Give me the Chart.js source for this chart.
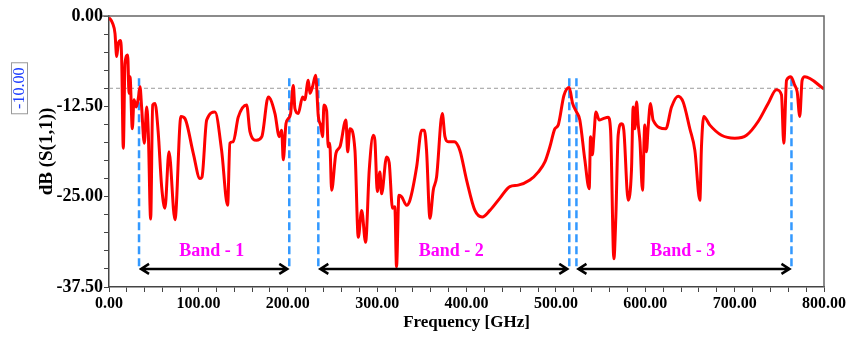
<!DOCTYPE html>
<html>
<head>
<meta charset="utf-8">
<script src="https://cdn.jsdelivr.net/npm/chart.js@4.4.0/dist/chart.umd.min.js"></script>
<style>
  html, body { margin: 0; padding: 0; background: #fff; }
</style>
</head>
<body>
<canvas id="s11-chart" width="850" height="339"></canvas>
<script>
// S(1,1) trace
const freqGHz = [
  0, 4, 6.7, 8.6, 10.4, 13, 14.2, 16, 17.9, 20.9, 22.4, 23.5, 26.1, 28, 30.5, 32.8, 34.7, 36.5, 39.5, 42.2,
  44, 46.6, 48.9, 51.5, 55, 58.9, 62.6, 67.1, 73.8, 80.5, 85, 94.3, 101.8, 104, 109.3, 118.6, 126, 132.7, 135.3, 139,
  144.6, 154, 157.7, 165, 171, 178.2, 185.7, 190.5, 193.2, 195, 198, 200.6, 203.2, 206.2, 208, 211.7, 216.6, 219, 223, 224.8,
  227.7, 231.2, 234.2, 236.8, 239, 240.5, 243.5, 245.3, 247, 249.1, 253.9, 258.4, 265.1, 267, 269.6, 275.2, 278.9, 282.7, 287.1, 291.2,
  295.7, 297.5, 300.2, 303.1, 305, 310.6, 313.5, 317.2, 319.8, 321.7, 324.4, 327.4, 333, 336.7, 344.2, 349.8, 352.8, 355.3, 359.1, 362.8,
  366.5, 372.9, 375.9, 379.6, 386.3, 392.6, 400.1, 409.4, 417.6, 426.2, 437.4, 448.5, 457.9, 470.9, 480.2, 487.7, 493.3, 498.9, 502.6, 509,
  514.9, 518.7, 523.2, 526.8, 532.4, 537.3, 538.8, 540.8, 542.5, 544.8, 548.5, 553, 558.5, 561.2, 564.9, 567.1, 569.7, 573.5, 576, 580.9,
  584.6, 586.5, 588.3, 590.3, 592.2, 594.1, 596.9, 599.5, 601.3, 603.3, 605.9, 608.8, 623, 629.4, 636.8, 642.4, 649.9, 655.5, 661.1, 662.9,
  665.5, 672.3, 685.3, 700.2, 713.3, 726.3, 737.5, 746.8, 752.4, 755, 758.1, 762.9, 767.3, 770, 772.9, 775.5, 778.5, 800
];
const s11dB = [
  -0.2, -1.0, -2.4, -5.6, -3.8, -3.4, -6.1, -18.3, -6.6, -5.4, -10.7, -8.4, -15.6, -11.6, -12.6, -11.4, -9.8, -12.6, -17.6, -12.6,
  -16.2, -28.1, -12.3, -12.1, -16, -23.6, -26.6, -18.8, -28.2, -13.9, -14.2, -19.0, -22.5, -22.3, -14.4, -13.3, -18.6, -26.2, -17.6, -17.4,
  -14, -12.3, -16, -17.2, -16.7, -11.2, -13.5, -16.7, -15.8, -19.9, -14.9, -14.2, -13.5, -9.6, -12.8, -13.5, -11.2, -11.6, -8.9, -10.7,
  -9.8, -8.2, -13.9, -15.1, -16.7, -12.3, -13.1, -18.1, -17.6, -24.1, -19, -18.1, -14.4, -18.8, -15.6, -18.6, -30.6, -26.9, -31.3, -21.3,
  -16.5, -17.2, -24.3, -21.6, -24.6, -19.5, -20.3, -26.6, -26.4, -34.7, -24.8, -25, -26.2, -25.5, -20.9, -15.8, -15.8, -18.6, -28, -24.1,
  -22.3, -13.5, -16.7, -17.4, -17.4, -18.6, -22.7, -26.9, -27.8, -26.9, -25.2, -23.6, -23.4, -22.7, -21.6, -20.2, -18.1, -15.6, -15.1, -11,
  -9.9, -12.1, -13.3, -14.4, -19.9, -23.9, -16.7, -19.2, -16.7, -13.3, -14.4, -14.2, -14, -15.8, -33.6, -27.8, -16.5, -14.9, -15.8, -25.5,
  -21.3, -12.6, -15.6, -11.9, -15.1, -17.4, -24.1, -15.1, -18.8, -15.3, -12.1, -14.4, -15.6, -12.6, -11.1, -11.9, -15.6, -18.6, -25.5, -18.1,
  -13.9, -15.1, -16.5, -16.9, -16.5, -14.6, -12.1, -10.2, -10.9, -17.6, -8.9, -8.4, -9.6, -10.5, -13.9, -8.9, -8.4, -10.1
];

// bands
const bandNames = ["Band - 1", "Band - 2", "Band - 3"];
const bandStart = [33.6, 234.2, 523];
const bandEnd = [201.7, 515, 763.6];
const bandLabelAt = [115, 383, 642];

const refLevel = -10;       // dashed reference line
const markerTop = -8.6;     // top of blue band markers
const arrowLevel = -35;     // level of the band arrows
const labelLevel = -32.5;   // level of the band names

const serif = "'Liberation Serif', 'Times New Roman', serif";

function toPoints(xs, ys) {
  return xs.map((v, i) => ({ x: v, y: ys[i] }));
}

// one dashed blue line per band edge
const markerSets = [];
bandStart.concat(bandEnd).forEach(f => {
  markerSets.push({
    data: [{ x: f, y: markerTop }, { x: f, y: arrowLevel }],
    borderColor: '#3399ff',
    borderWidth: 2.5,
    borderDash: [8, 4],
    pointRadius: 0
  });
});

const annotations = {
  id: 'annotations',
  afterDatasetsDraw(chart) {
    const { ctx, chartArea, scales: { x, y } } = chart;
    ctx.save();

    // top and right frame
    ctx.strokeStyle = '#666';
    ctx.lineWidth = 1.5;
    ctx.beginPath();
    ctx.moveTo(chartArea.left - 7, chartArea.top);
    ctx.lineTo(chartArea.right, chartArea.top);
    ctx.lineTo(chartArea.right, chartArea.bottom);
    ctx.stroke();

    // double arrows and band names
    const ay = y.getPixelForValue(arrowLevel);
    ctx.strokeStyle = '#000';
    ctx.lineWidth = 2.5;
    ctx.lineJoin = 'miter';
    bandNames.forEach((name, i) => {
      const x1 = x.getPixelForValue(bandStart[i]);
      const x2 = x.getPixelForValue(bandEnd[i]);
      ctx.beginPath();
      ctx.moveTo(x1 + 2, ay);
      ctx.lineTo(x2 - 2, ay);
      ctx.moveTo(x1 + 10, ay - 5);
      ctx.lineTo(x1 + 2, ay);
      ctx.lineTo(x1 + 10, ay + 5);
      ctx.moveTo(x2 - 10, ay - 5);
      ctx.lineTo(x2 - 2, ay);
      ctx.lineTo(x2 - 10, ay + 5);
      ctx.stroke();

      ctx.fillStyle = '#ff00ff';
      ctx.font = "bold 18px " + serif;
      ctx.textAlign = 'center';
      ctx.textBaseline = 'middle';
      ctx.fillText(name, x.getPixelForValue(bandLabelAt[i]), y.getPixelForValue(labelLevel));
    });

    // boxed -10.00 marker on the left
    const ry = y.getPixelForValue(refLevel);
    ctx.translate(20, ry);
    ctx.rotate(-Math.PI / 2);
    ctx.strokeStyle = '#999';
    ctx.lineWidth = 1;
    ctx.strokeRect(-25.5, -8.5, 51, 16);
    ctx.fillStyle = '#1f3fff';
    ctx.font = "16px " + serif;
    ctx.textAlign = 'center';
    ctx.textBaseline = 'middle';
    ctx.fillText(refLevel.toFixed(2), 0, 0);

    ctx.restore();
  }
};

new Chart(document.getElementById('s11-chart'), {
  type: 'line',
  data: {
    datasets: [
      {
        data: toPoints(freqGHz, s11dB),
        borderColor: '#ff0000',
        borderWidth: 3,
        pointRadius: 0,
        cubicInterpolationMode: 'monotone'
      },
      {
        data: [{ x: 0, y: refLevel }, { x: 800, y: refLevel }],
        borderColor: '#9a9a9a',
        borderWidth: 1,
        borderDash: [4, 3],
        pointRadius: 0
      }
    ].concat(markerSets)
  },
  options: {
    responsive: false,
    animation: false,
    layout: { padding: { top: 16, right: 26, left: 0, bottom: 0 } },
    plugins: {
      legend: { display: false },
      tooltip: { enabled: false }
    },
    scales: {
      x: {
        type: 'linear',
        min: 0,
        max: 800,
        afterFit: s => { s.height = 52; },
        border: { color: '#444', width: 1.5 },
        grid: { drawOnChartArea: false, tickLength: 5, color: '#444' },
        ticks: {
          stepSize: 20,
          autoSkip: false,
          maxRotation: 0,
          padding: 2,
          color: '#000',
          font: { family: serif, size: 16, weight: 'bold' },
          callback: v => (v % 100 === 0 ? v.toFixed(2) : '')
        },
        title: {
          display: true,
          text: 'Frequency [GHz]',
          color: '#000',
          font: { family: serif, size: 17, weight: 'bold' },
          padding: { top: 0, bottom: 6 }
        }
      },
      y: {
        type: 'linear',
        min: -37.5,
        max: 0,
        afterFit: s => { s.width = 109; },
        border: { color: '#444', width: 1.5 },
        grid: { drawOnChartArea: false, tickLength: 5, color: '#444' },
        ticks: {
          stepSize: 2.5,
          autoSkip: false,
          padding: 1,
          color: '#000',
          font: { family: serif, size: 18, weight: 'bold' },
          callback: v => {
            const k = v / 12.5;
            return Math.abs(k - Math.round(k)) < 1e-6 ? v.toFixed(2) : '';
          }
        },
        title: {
          display: true,
          text: 'dB (S(1,1))',
          color: '#000',
          font: { family: serif, size: 19, weight: 'bold' },
          padding: { top: 36, bottom: 0 }
        }
      }
    }
  },
  plugins: [annotations]
});
</script>
</body>
</html>
